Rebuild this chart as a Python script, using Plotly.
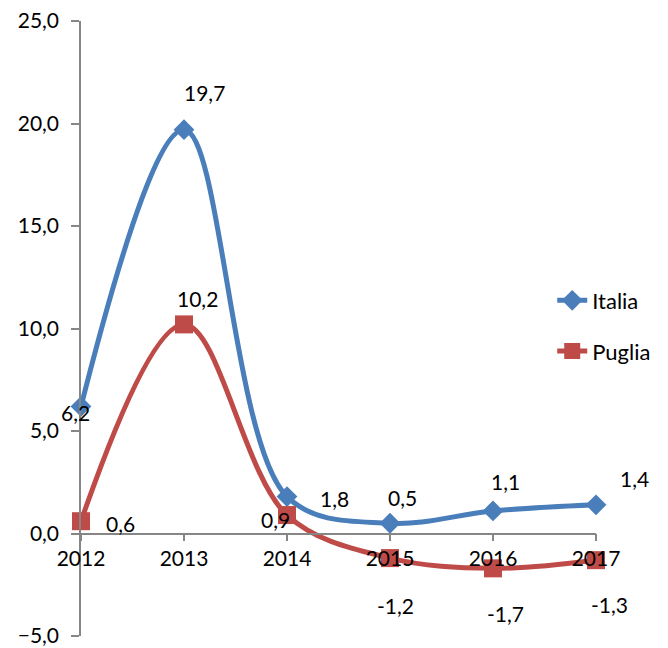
import plotly.graph_objects as go

years = ["2012", "2013", "2014", "2015", "2016", "2017"]
italia = [6.2, 19.7, 1.8, 0.5, 1.1, 1.4]
puglia = [0.6, 10.2, 0.9, -1.2, -1.7, -1.3]

# label offsets in pixels (xshift, yshift) for each data label
italia_shift = [(-6, -6), (20, 37), (47, -2), (12, 26), (12, 29), (38, 26)]
puglia_shift = [(39, -2), (13, 26), (-12, -4), (5, -47), (12, -45), (13, -44)]

BLUE = "#4a7ebb"
RED = "#be4b48"
GRAY = "#868686"
FONT = "Lato, 'Open Sans', sans-serif"
FS = 21

xs = list(range(len(years)))

fig = go.Figure()
fig.add_trace(go.Scatter(
    x=xs, y=italia, name="Italia", mode="lines+markers",
    line=dict(color=BLUE, width=5, shape="spline", smoothing=1),
    marker=dict(symbol="diamond", size=16, color=BLUE),
    cliponaxis=False, legendgroup="a",
))
fig.add_trace(go.Scatter(
    x=xs, y=puglia, name="Puglia", mode="lines+markers",
    line=dict(color=RED, width=5, shape="spline", smoothing=1),
    marker=dict(symbol="square", size=18, color=RED),
    cliponaxis=False, legendgroup="b",
))

def fmt(v):
    return f"{v:.1f}".replace(".", ",")

annotations = []
for vals, shifts in ((italia, italia_shift), (puglia, puglia_shift)):
    for i, v in enumerate(vals):
        annotations.append(dict(
            x=i, y=v, xref="x", yref="y", text=fmt(v), showarrow=False,
            xshift=shifts[i][0], yshift=shifts[i][1],
            font=dict(family=FONT, size=FS, color="#000000"),
        ))

fig.update_layout(
    width=668, height=648,
    margin=dict(l=81, r=67, t=21, b=12),
    paper_bgcolor="white", plot_bgcolor="white",
    separators=",.",
    font=dict(family=FONT, size=FS, color="#000000"),
    showlegend=True,
    legend=dict(
        x=0.915, y=0.504, xanchor="left", yanchor="middle",
        traceorder="grouped", tracegroupgap=19,
        font=dict(family=FONT, size=FS + 1, color="#000000"),
        bgcolor="rgba(0,0,0,0)",
    ),
    annotations=annotations,
    xaxis=dict(
        range=[0, 5], tickmode="array", tickvals=xs, ticktext=years,
        showgrid=False, zeroline=False, showline=True, linecolor=GRAY, linewidth=1.5,
        ticks="outside", ticklen=7, tickcolor=GRAY, tickwidth=1.5,
        anchor="free", position=5 / 30, automargin=False,
        tickfont=dict(family=FONT, size=FS, color="#000000"),
    ),
    yaxis=dict(
        range=[-5, 25], tickmode="linear", tick0=-5, dtick=5, tickformat=".1f",
        showgrid=False, zeroline=False, showline=True, linecolor=GRAY, linewidth=1.5,
        ticks="outside", ticklen=8, tickcolor=GRAY, tickwidth=1.5, automargin=False,
        tickfont=dict(family=FONT, size=FS, color="#000000"),
        ticklabelstandoff=8,
    ),
)

fig.write_html("out.html")
